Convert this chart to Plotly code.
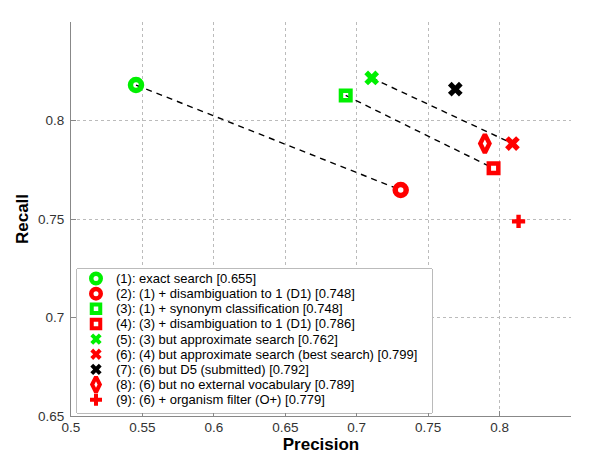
import plotly.graph_objects as go

labels = [
    "(1): exact search [0.655]",
    "(2): (1) + disambiguation to 1 (D1) [0.748]",
    "(3): (1) + synonym classification [0.748]",
    "(4): (3) + disambiguation to 1 (D1) [0.786]",
    "(5): (3) but approximate search [0.762]",
    "(6): (4) but approximate search (best search) [0.799]",
    "(7): (6) but D5 (submitted) [0.792]",
    "(8): (6) but no external vocabulary [0.789]",
    "(9): (6) + organism filter (O+) [0.779]",
]
precision = [0.5455, 0.7308, 0.6923, 0.7958, 0.7105, 0.8090, 0.7690, 0.7897, 0.8133]
recall = [0.8180, 0.7647, 0.8127, 0.7757, 0.8216, 0.7883, 0.8159, 0.7883, 0.7488]
colors = ["#00f000", "#ff0000", "#00f000", "#ff0000", "#00f000", "#ff0000", "#000000", "#ff0000", "#ff0000"]
symbols = ["circle-open", "circle-open", "square-open", "square-open", "x", "x", "x", "diamond-tall-open", "cross"]
sizes = [11, 11, 9.5, 9.5, 13, 13, 13, 13, 11]
line_widths = [5.5, 5.5, 4.5, 4.5, 0, 0, 0, 4.5, 0]
legend_sizes = [9.5, 9.5, 8.5, 8.5, 10, 10, 10, 11, 10]
legend_line_widths = [4.5, 4.5, 4, 4, 0, 0, 0, 4, 0]
pairs = [(0, 1), (2, 3), (4, 5)]

x_ticks = [0.5, 0.55, 0.6, 0.65, 0.7, 0.75, 0.8]
y_ticks = [0.65, 0.7, 0.75, 0.8]

FONT = "Liberation Sans, Arial, Helvetica, sans-serif"

fig = go.Figure()

for a, b in pairs:
    fig.add_trace(go.Scatter(
        x=[precision[a], precision[b]], y=[recall[a], recall[b]],
        mode="lines", line=dict(color="black", dash="6px,5px", width=1.4),
        showlegend=False, hoverinfo="skip"))

for i in range(len(labels)):
    fig.add_trace(go.Scatter(
        x=[precision[i]], y=[recall[i]], mode="markers", name=labels[i],
        showlegend=False,
        marker=dict(symbol=symbols[i], size=sizes[i], color=colors[i],
                    line=dict(color=colors[i], width=line_widths[i]))))

# --- custom legend (pixel-like coordinates inside its own small axes) ---
LEG_W, LEG_H = 355, 144
row_top, row_step = 9.5, 15.15
marker_x, text_x = 19, 37
rows = [row_top + row_step * i for i in range(len(labels))]

fig.add_shape(type="rect", xref="x2 domain", yref="y2 domain", x0=0, x1=1, y0=0, y1=1,
              fillcolor="white", line=dict(color="#777777", width=1), layer="below")

for i in range(len(labels)):
    fig.add_trace(go.Scatter(
        x=[marker_x], y=[rows[i]], xaxis="x2", yaxis="y2", mode="markers",
        showlegend=False, hoverinfo="skip",
        marker=dict(symbol=symbols[i], size=legend_sizes[i], color=colors[i],
                    line=dict(color=colors[i], width=legend_line_widths[i]))))
    fig.add_annotation(x=text_x, y=rows[i], xref="x2", yref="y2", text=labels[i],
                       showarrow=False, xanchor="left", yanchor="middle",
                       font=dict(family=FONT, size=13, color="black"))

axis_common = dict(
    showline=True, linecolor="#888888", linewidth=1,
    ticks="inside", ticklen=5, tickcolor="#888888",
    showgrid=True, gridcolor="#bbbbbb", griddash="dot", gridwidth=1,
    zeroline=False, mirror=False,
    tickfont=dict(family=FONT, size=13.5, color="#333333"),
)

fig.update_layout(
    xaxis=dict(range=[0.5, 0.85], tickvals=x_ticks, ticktext=[f"{v:g}" for v in x_ticks],
               title=dict(text="<b>Precision</b>", font=dict(family=FONT, size=17, color="black"), standoff=0),
               ticklabelstandoff=-1,
               **axis_common),
    yaxis=dict(range=[0.65, 0.85], tickvals=y_ticks, ticktext=[f"{v:g}" for v in y_ticks],
               title=dict(text="<b>Recall</b>", font=dict(family=FONT, size=17, color="black"), standoff=5),
               ticklabelstandoff=3,
               **axis_common),
    xaxis2=dict(domain=[6 / 500, 361 / 500], range=[0, LEG_W], visible=False, anchor="y2",
                fixedrange=True, showgrid=False),
    yaxis2=dict(domain=[3 / 394, 147 / 394], range=[LEG_H, 0], visible=False, anchor="x2",
                fixedrange=True, showgrid=False),
    width=600, height=458,
    margin=dict(l=63, r=37, t=14, b=50),
    plot_bgcolor="white", paper_bgcolor="white",
    font=dict(family=FONT, size=13, color="black"),
    showlegend=False,
)

fig.write_html("out.html")
